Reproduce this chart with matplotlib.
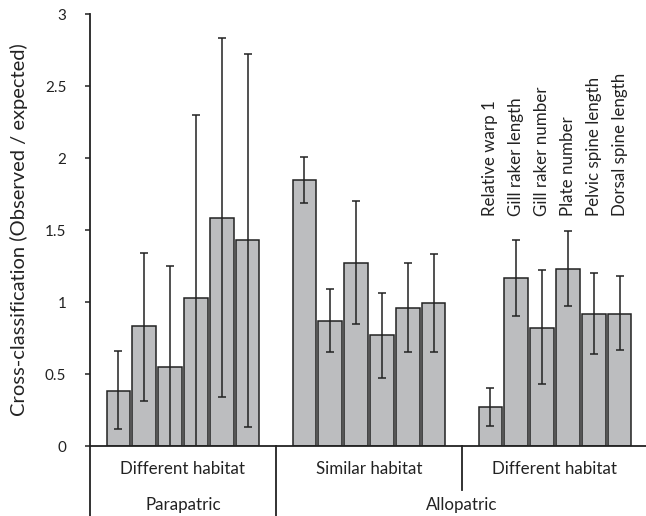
import matplotlib.pyplot as plt
import numpy as np

plt.rcParams['font.family'] = ['Lato', 'DejaVu Sans']

# observed / expected, one list per group (6 traits each)
traits = ["Relative warp 1", "Gill raker length", "Gill raker number",
          "Plate number", "Pelvic spine length", "Dorsal spine length"]
habitats = ["Different habitat", "Similar habitat", "Different habitat"]
ranges = ["Parapatric", "Allopatric"]

para_diff = [0.38, 0.83, 0.55, 1.03, 1.58, 1.43]
allo_sim = [1.85, 0.87, 1.27, 0.77, 0.96, 0.99]
allo_diff = [0.27, 1.17, 0.82, 1.23, 0.92, 0.92]

para_diff_lo = [0.12, 0.31, -0.1, -0.1, 0.34, 0.13]
para_diff_hi = [0.66, 1.34, 1.25, 2.30, 2.83, 2.72]
allo_sim_lo = [1.69, 0.65, 0.85, 0.47, 0.65, 0.65]
allo_sim_hi = [2.01, 1.09, 1.70, 1.06, 1.27, 1.33]
allo_diff_lo = [0.14, 0.90, 0.43, 0.97, 0.64, 0.67]
allo_diff_hi = [0.40, 1.43, 1.22, 1.49, 1.20, 1.18]

values = [para_diff, allo_sim, allo_diff]
lows = [para_diff_lo, allo_sim_lo, allo_diff_lo]
highs = [para_diff_hi, allo_sim_hi, allo_diff_hi]

fig = plt.figure(figsize=(6.46, 5.16), dpi=100)
ax = fig.add_axes([90 / 646, 70 / 516, 558 / 646, 432 / 516])

step = 0.139
width = 0.127
for g in range(3):
    x = g + 0.5 + (np.arange(6) - 2.5) * step
    v = np.array(values[g])
    err = [v - np.array(lows[g]), np.array(highs[g]) - v]
    ax.bar(x, v, width=width, color='#bcbdbf', edgecolor='#222222', linewidth=1.1)
    ax.errorbar(x, v, yerr=err, fmt='none', ecolor='#222222', elinewidth=1.1,
                capsize=2.6, capthick=1.1)
    if g == 2:
        for xi, name in zip(x, traits):
            ax.text(xi, 1.6, name, rotation=90, ha='center', va='bottom',
                    fontsize=12.2, color='#222222')

ax.set_xlim(0, 3)
ax.set_ylim(0, 3)
ax.set_yticks(np.arange(0, 3.01, 0.5))
ax.set_yticklabels(["0", "0.5", "1", "1.5", "2", "2.5", "3"])
ax.tick_params(axis='y', length=3.6, width=1.1, pad=13.5, labelsize=11, colors='#222222')
ax.tick_params(axis='x', bottom=False, labelbottom=False)
ax.set_ylabel("Cross-classification (Observed / expected)", fontsize=14.5,
              color='#222222')
ax.yaxis.set_label_coords(-0.111, 0.5)
for s in ['top', 'right']:
    ax.spines[s].set_visible(False)
for s in ['left', 'bottom']:
    ax.spines[s].set_linewidth(1.3)
    ax.spines[s].set_color('#222222')

# category dividers and labels below the axis
tr = ax.get_xaxis_transform()
for xd, ylow in [(0, -0.17), (1, -0.17), (2, -0.102)]:
    ax.plot([xd, xd], [0, ylow], transform=tr, color='#222222', lw=1.3, clip_on=False)
for i, h in enumerate(habitats):
    ax.text(i + 0.5, -0.053, h, transform=tr, ha='center', va='center',
            fontsize=12.2, color='#222222')
ax.text(0.5, -0.137, ranges[0], transform=tr, ha='center', va='center',
        fontsize=12.2, color='#222222')
ax.text(2.0, -0.137, ranges[1], transform=tr, ha='center', va='center',
        fontsize=12.2, color='#222222')

fig.savefig("out.png", dpi=100)
